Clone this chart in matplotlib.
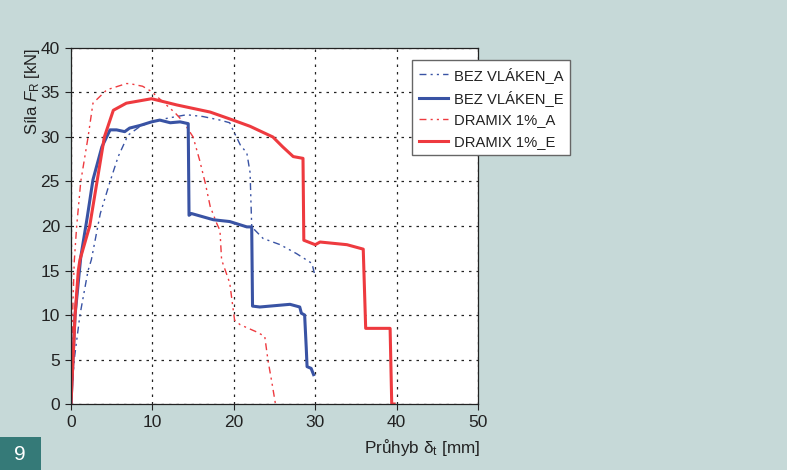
import matplotlib
matplotlib.use('Agg')
import matplotlib.pyplot as plt
from matplotlib.patches import Rectangle

plt.rcParams['font.family'] = ['Liberation Sans', 'DejaVu Sans']
plt.rcParams['mathtext.fontset'] = 'custom'
plt.rcParams['mathtext.rm'] = 'Liberation Sans'
plt.rcParams['mathtext.it'] = 'Liberation Sans:italic'

# ── Data ──────────────────────────────────────────────────────────────────────
bez_a_x = [0.0, 0.4, 1.1, 2.1, 2.5, 3.6, 4.8, 5.8, 7.0, 8.5, 9.9, 11.8, 14.2, 16.2, 18.3,
           19.5, 19.9, 20.8, 21.6, 22.0, 22.2, 23.6, 25.7, 27.7, 29.6, 30.0]
bez_a_y = [0.0, 5.0, 10.0, 15.0, 16.2, 21.4, 25.0, 27.8, 30.2, 31.2, 31.7, 32.1, 32.5, 32.3, 31.9,
           31.6, 30.8, 29.1, 28.2, 26.0, 19.9, 18.6, 17.9, 16.9, 15.8, 14.3]

bez_e_x = [0.0, 0.5, 1.2, 2.0, 2.7, 3.8, 4.8, 5.6, 6.6, 7.2, 8.5, 9.9, 10.9, 12.2, 13.4, 14.4,
           14.5, 14.8, 17.5, 19.5, 21.6, 22.2, 22.3, 23.2, 26.9, 28.1, 28.3, 28.7, 28.9, 29.0,
           29.5, 29.8]
bez_e_y = [0.0, 10.0, 16.5, 21.0, 25.2, 28.9, 30.8, 30.8, 30.6, 31.0, 31.3, 31.7, 31.9, 31.6, 31.7, 31.5,
           21.2, 21.4, 20.7, 20.5, 19.9, 19.9, 11.0, 10.9, 11.2, 10.9, 10.2, 10.0, 6.3, 4.2,
           4.0, 3.3]

dramix_a_x = [0.0, 0.2, 0.4, 0.7, 1.2, 2.1, 2.7, 4.4, 6.8, 7.2, 8.8, 9.9, 12.8, 13.8, 15.0, 15.8,
              16.5, 17.1, 17.9, 18.3, 18.5, 19.5, 20.1, 20.8, 22.8, 23.8, 24.2, 24.7, 25.1]
dramix_a_y = [0.0, 10.0, 16.0, 20.0, 25.0, 30.0, 33.8, 35.3, 36.0, 36.0, 35.7, 35.1, 32.7, 31.7, 30.0, 27.4,
              24.8, 22.2, 20.3, 19.5, 16.2, 13.6, 9.4, 8.9, 8.1, 7.6, 4.9, 2.3, 0.1]

dramix_e_x = [0.0, 0.5, 0.9, 1.1, 2.3, 3.2, 4.1, 5.2, 6.8, 9.9, 13.0, 17.1, 19.9, 22.0, 24.8,
              26.0, 27.3, 28.5, 28.6, 30.0, 30.6, 33.9, 35.9, 36.2, 39.2, 39.4, 39.7]
dramix_e_y = [0.0, 10.0, 15.0, 16.2, 20.0, 25.0, 30.0, 33.0, 33.8, 34.3, 33.6, 32.8, 31.9, 31.2, 30.0,
              28.9, 27.8, 27.6, 18.4, 17.9, 18.2, 17.9, 17.4, 8.5, 8.5, 0.0, 0.0]

x_ticks = [0, 10, 20, 30, 40, 50]
y_ticks = [0, 5, 10, 15, 20, 25, 30, 35, 40]

BLUE = '#3953a4'
RED = '#ee3a3f'
BG = '#c6d9d8'
INK = '#222222'

fig = plt.figure(figsize=(7.87, 4.70), dpi=100, facecolor=BG)
ax = fig.add_axes([0.0902, 0.1404, 0.5172, 0.7575])
ax.set_facecolor('white')

ax.plot(bez_a_x, bez_a_y, color=BLUE, lw=1.0, ls=(0, (5, 3, 1.5, 3, 1.5, 3)), label='BEZ VLÁKEN_A')
ax.plot(dramix_a_x, dramix_a_y, color=RED, lw=1.0, ls=(0, (5, 3, 1.5, 3, 1.5, 3)), label='DRAMIX 1%_A')
ax.plot(bez_e_x, bez_e_y, color=BLUE, lw=2.2, label='BEZ VLÁKEN_E')
ax.plot(dramix_e_x, dramix_e_y, color=RED, lw=2.2, label='DRAMIX 1%_E')

ax.set_xlim(0, 50)
ax.set_ylim(0, 40)
ax.set_xticks(x_ticks)
ax.set_yticks(y_ticks)
ax.tick_params(labelsize=12.5, direction='out', length=4, width=0.8, colors=INK, pad=4)
ax.grid(True, color=INK, ls=(0, (2, 4)), lw=0.9)
for s in ax.spines.values():
    s.set_linewidth(0.9)
    s.set_color(INK)

ax.set_ylabel(r'Síla $F_{\mathregular{R}}$ [kN]', fontsize=12, color=INK, loc='top', labelpad=-1)
fig.text(0.610, 0.047, r'Průhyb δ$_{\mathregular{t}}$ [mm]', ha='right', va='center',
         fontsize=12.3, color=INK)

handles, labels = ax.get_legend_handles_labels()
order = [0, 2, 1, 3]
leg = fig.legend([handles[i] for i in order], [labels[i] for i in order],
                 loc='upper left', bbox_to_anchor=(412 / 787, 1 - 60 / 470), borderaxespad=0,
                 fontsize=10.6, frameon=True, fancybox=False, framealpha=1, edgecolor='#666666',
                 handlelength=2.0, handletextpad=0.4, borderpad=0.45, labelspacing=0.5)
leg.get_frame().set_linewidth(1.0)
for t in leg.get_texts():
    t.set_color(INK)

fig.patches.append(Rectangle((0, 0), 41 / 787, 33 / 470, transform=fig.transFigure,
                             facecolor='#357a78', edgecolor='none'))
fig.text(20 / 787, 16 / 470, '9', ha='center', va='center', color='white', fontsize=15)

fig.savefig('out.png', dpi=100, facecolor=BG)
